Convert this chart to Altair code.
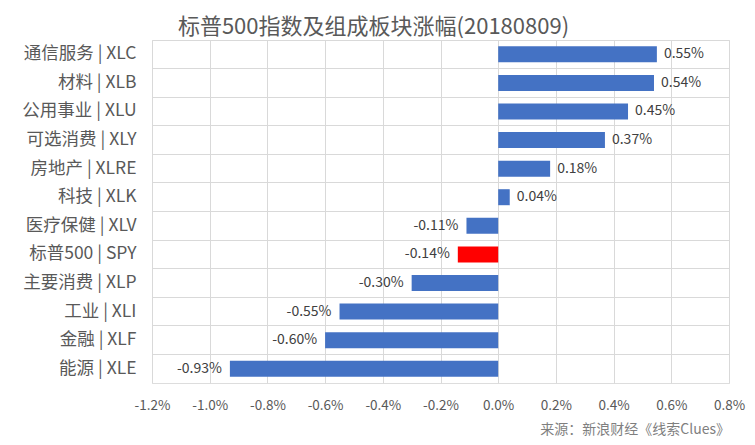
import altair as alt
import pandas as pd

categories = ["通信服务 | XLC", "材料 | XLB", "公用事业 | XLU", "可选消费 | XLY", "房地产 | XLRE",
              "科技 | XLK", "医疗保健 | XLV", "标普500 | SPY", "主要消费 | XLP", "工业 | XLI",
              "金融 | XLF", "能源 | XLE"]
values = [0.55, 0.54, 0.45, 0.37, 0.18, 0.04, -0.11, -0.14, -0.30, -0.55, -0.60, -0.93]
highlight = ["标普500 | SPY"]

df = pd.DataFrame({
    "cat": categories,
    "val": [v / 100 for v in values],
    "label": [f"{v:.2f}%" for v in values],
    "hl": ["yes" if c in highlight else "no" for c in categories],
})

FONT = "Noto Sans CJK SC"

x = alt.X("val:Q", scale=alt.Scale(domain=[-0.012, 0.008], nice=False),
          axis=alt.Axis(format=".1%", values=[i / 1000 for i in range(-12, 9, 2)],
                        labelExpr="replace(datum.label, '\u2212', '-')",
                        labelFlush=False, labelOverlap=False,
                        ticks=False, domain=False, labelPadding=15, labelFontSize=13.5,
                        labelColor="#595959", gridColor="#d9d9d9", title=None, labelFont=FONT))
y = alt.Y("cat:N", sort=categories,
          scale=alt.Scale(paddingInner=0, paddingOuter=0),
          axis=alt.Axis(bandPosition=0, ticks=False, domain=False, labelPadding=16,
                        labelFontSize=17.5, labelColor="#595959", gridColor="#d9d9d9",
                        grid=True, title=None, labelFont=FONT))

bars = alt.Chart(df).mark_bar(size=16).encode(
    x=x, y=y,
    color=alt.Color("hl:N", scale=alt.Scale(domain=["no", "yes"], range=["#4472C4", "#FF0000"]), legend=None),
)

pos_text = alt.Chart(df).transform_filter("datum.val >= 0").mark_text(
    align="left", dx=7, fontSize=14, color="#404040", font=FONT
).encode(x="val:Q", y=alt.Y("cat:N", sort=categories), text="label:N")

neg_text = alt.Chart(df).transform_filter("datum.val < 0").mark_text(
    align="right", dx=-8, fontSize=14, color="#404040", font=FONT
).encode(x="val:Q", y=alt.Y("cat:N", sort=categories), text="label:N")

source = alt.Chart(pd.DataFrame({"t": ["来源：新浪财经《线索Clues》"]})).mark_text(
    align="right", baseline="middle", fontSize=14, color="#7f7f7f", font=FONT
).encode(x=alt.value(578), y=alt.value(390), text="t:N")

chart = alt.layer(bars, pos_text, neg_text, source).properties(
    width=577, height=343,
    title=alt.TitleParams("标普500指数及组成板块涨幅(20180809)", fontSize=22, color="#595959",
                          font=FONT, fontWeight="normal", anchor="middle", frame="group",
                          dx=-67, offset=1),
    autosize=alt.AutoSizeParams(type="none"),
    padding={"left": 144, "top": 32, "right": 18, "bottom": 54},
).configure_view(stroke="#d9d9d9").configure(background="white")

chart.save("out.html", embed_options={"renderer": "svg", "actions": False})
